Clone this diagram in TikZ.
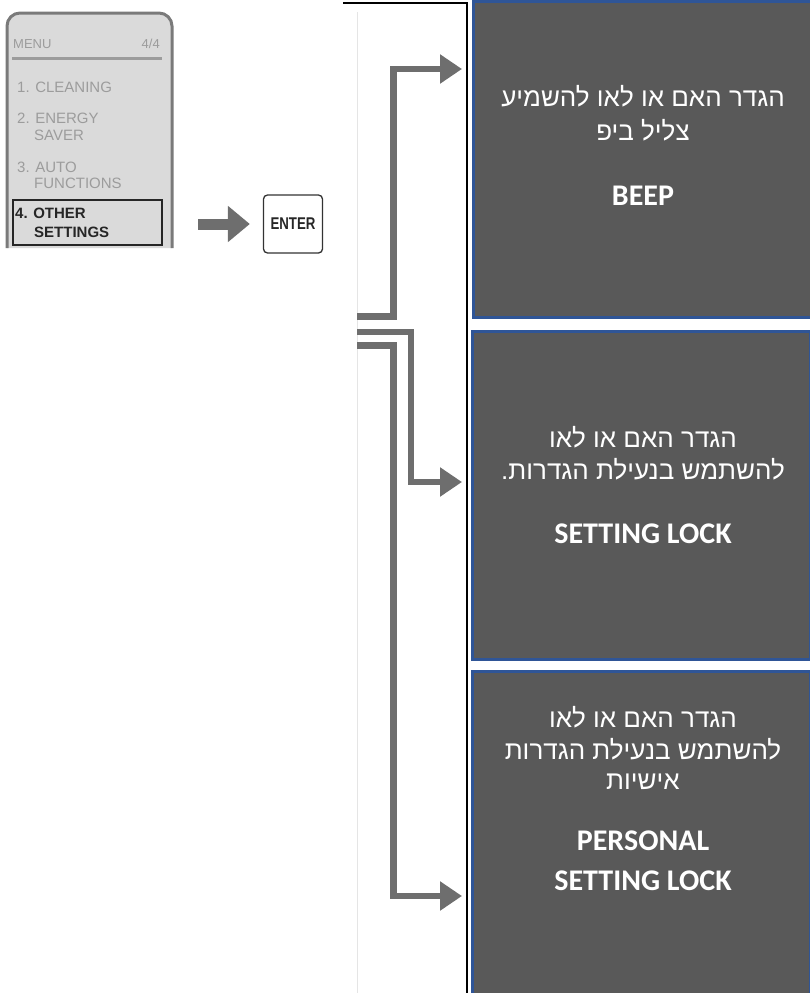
\documentclass[tikz,border=0pt]{standalone}
\usepackage{fontspec}
\setmainfont{Carlito}
\setsansfont{Liberation Sans}
\newfontfamily\hebfont[Script=Hebrew]{Liberation Sans}
\TeXXeTstate=1
\usetikzlibrary{arrows.meta, positioning, calc}

\definecolor{flowgray}{HTML}{6E6E6E}
\definecolor{boxfill}{HTML}{595959}
\definecolor{boxblue}{HTML}{2F5597}
\definecolor{panelbg}{HTML}{DADADA}
\definecolor{panelrim}{HTML}{7A7A7A}
\definecolor{menugray}{HTML}{9C9C9C}

\tikzset{
  optbox/.style={draw=boxblue, line width=2.5pt, fill=boxfill, anchor=north west,
    minimum width=338pt, inner sep=0pt},
  hebtxt/.style={anchor=base, text=white, inner sep=0pt,
    font=\hebfont\fontsize{26}{30}\selectfont},
  engtxt/.style={anchor=base, text=white, inner sep=0pt,
    font=\bfseries\fontsize{30}{34}\selectfont},
  flowline/.style={draw=flowgray, line width=6.5pt, line join=miter,
    -{Triangle[length=22pt,width=28pt]}},
  menutxt/.style={anchor=base west, text=menugray, inner sep=0pt,
    font=\sffamily\fontsize{15}{17}\selectfont},
  seltxt/.style={menutxt, text=black!85, font=\sffamily\bfseries\fontsize{15}{17}\selectfont},
  enterkey/.style={draw=black!80, line width=1.3pt, rounded corners=4pt,
    minimum width=59pt, minimum height=58pt, inner sep=0pt,
    font=\sffamily\bfseries\fontsize{17}{19}\selectfont, text=black!85}
}

\begin{document}
\begin{tikzpicture}[x=1pt,y=-1pt]
\useasboundingbox (0,0) rectangle (809,993);

% menu screen
\draw[panelrim, fill=panelbg, line width=3pt, rounded corners=13pt]
  (7,248) |- (172,13) -- (172,248);
\node[menutxt, font=\sffamily\fontsize{13}{15}\selectfont] (mtitle) at (13,48) {MENU};
\node[menutxt, anchor=base east, font=\sffamily\fontsize{13}{15}\selectfont] (mpage) at (160,48) {4/4};
\draw[menugray, line width=3pt] (12,58) -- (162,58);
\node[menutxt] (m1) at (17,92) {1. CLEANING};
\node[menutxt] (m2) at (17,123) {2. ENERGY};
\node[menutxt] (m2b) at (34,140) {SAVER};
\node[menutxt] (m3) at (17,172) {3. AUTO};
\node[menutxt] (m3b) at (34,188) {FUNCTIONS};
\draw[black!85, line width=2.5pt] (13,200) rectangle (162,245);
\node[seltxt] (m4) at (15,218) {4. OTHER};
\node[seltxt] (m4b) at (34,237) {SETTINGS};

\node[enterkey] (enter) at (293,224) {\scalebox{0.78}[1]{ENTER}};
\coordinate (menuout) at (198,224);
\draw[flowgray, line width=11pt, -{Triangle[length=22pt,width=35pt]}]
  (menuout) -- ([xshift=-13pt]enter.west);

% frame
\draw[black!10, line width=0.8pt] (357,12) -- (357,995);
\draw[black, line width=2pt] (343,3) -- (467,3) -- (467,995);

% option boxes
\node[optbox, minimum height=316pt] (beep) at (472,0) {};
\node[optbox, minimum height=328pt] (lock) at (471,330) {};
\node[optbox, minimum height=340pt] (perslock) at (471,670) {};

\node[hebtxt] (beep1) at (643,106) {\beginR הגדר האם או לאו להשמיע\endR};
\node[hebtxt] (beep2) at (643,140) {\beginR צליל ביפ\endR};
\node[engtxt] (beep3) at (643,205) {BEEP};

\node[hebtxt] (lock1) at (643,447) {\beginR הגדר האם או לאו\endR};
\node[hebtxt] (lock2) at (643,479) {\beginR להשתמש בנעילת הגדרות.\endR};
\node[engtxt] (lock3) at (643,543) {SETTING LOCK};

\node[hebtxt] (pers1) at (643,727) {\beginR הגדר האם או לאו\endR};
\node[hebtxt] (pers2) at (643,759) {\beginR להשתמש בנעילת הגדרות\endR};
\node[hebtxt] (pers3) at (643,789) {\beginR אישיות\endR};
\node[engtxt] (pers4) at (643,850) {PERSONAL};
\node[engtxt] (pers5) at (643,890) {SETTING LOCK};

% connectors
\coordinate (src1) at (357,316.5);
\coordinate (src2) at (357,332);
\coordinate (src3) at (357,345.5);
\coordinate (tip1) at (462,69);
\coordinate (tip2) at (462,482);
\coordinate (tip3) at (462,896);
\draw[flowline] (src1) -| (393.5,69) -- (tip1);
\draw[flowline] (src2) -| (411,482) -- (tip2);
\draw[flowline] (src3) -| (393.5,896) -- (tip3);
\end{tikzpicture}
\end{document}
